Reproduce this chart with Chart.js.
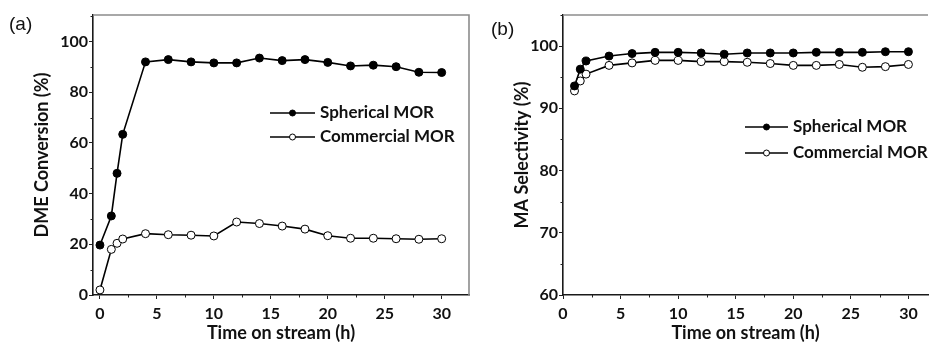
<!DOCTYPE html>
<html>
<head>
<meta charset="utf-8">
<script src="https://cdn.jsdelivr.net/npm/chart.js@4/dist/chart.umd.min.js"></script>
<style>
  html, body { margin: 0; padding: 0; background: #fff; }
  body { width: 933px; height: 344px; position: relative; overflow: hidden; }
  .pane { position: absolute; top: 0; height: 344px; }
  #wa { left: 0; width: 474px; }
  #wb { left: 473px; width: 460px; }
  .plabel { position: absolute; font-family: "Liberation Sans", Arial, sans-serif; font-size: 19px; color: #111; }
</style>
</head>
<body>
<div class="pane" id="wa"><canvas id="ca" width="474" height="344"></canvas></div>
<div class="pane" id="wb"><canvas id="cb" width="460" height="344"></canvas></div>
<div class="plabel" style="left:9px; top:13px;">(a)</div>
<div class="plabel" style="left:491px; top:18px;">(b)</div>
<script>
// ---- Data ----
const seriesNames = ["Spherical MOR", "Commercial MOR"];

const timeA = [0, 1, 1.5, 2, 4, 6, 8, 10, 12, 14, 16, 18, 20, 22, 24, 26, 28, 30];
const sphericalConversion = [19.7, 31.2, 48.0, 63.4, 92.0, 92.9, 92.0, 91.6, 91.6, 93.5, 92.5, 92.9, 91.8, 90.4, 90.7, 90.1, 87.9, 87.8];
const commercialConversion = [2.0, 18.0, 20.4, 22.1, 24.2, 23.8, 23.6, 23.3, 28.8, 28.2, 27.2, 26.0, 23.4, 22.4, 22.4, 22.2, 22.0, 22.2];

const timeB = [1, 1.5, 2, 4, 6, 8, 10, 12, 14, 16, 18, 20, 22, 24, 26, 28, 30];
const sphericalSelectivity = [93.6, 96.3, 97.6, 98.4, 98.8, 99.0, 99.0, 98.9, 98.7, 98.9, 98.9, 98.9, 99.0, 99.0, 99.0, 99.1, 99.1];
const commercialSelectivity = [92.8, 94.4, 95.5, 96.9, 97.3, 97.7, 97.7, 97.5, 97.5, 97.4, 97.2, 96.9, 96.9, 97.05, 96.6, 96.7, 97.05];

const xMajorTicks = [0, 5, 10, 15, 20, 25, 30];
const xMinorTicks = [2.5, 7.5, 12.5, 17.5, 22.5, 27.5, 32.5];
const yMajorTicksA = [0, 20, 40, 60, 80, 100];
const yMinorTicksA = [10, 30, 50, 70, 90, 110];
const yMajorTicksB = [60, 70, 80, 90, 100];
const yMinorTicksB = [65, 75, 85, 95, 105];

const xTitle = "Time on stream (h)";
const yTitleA = "DME Conversion (%)";
const yTitleB = "MA Selectivity (%)";

// ---- Styling ----
const FONT = "Lato, 'Open Sans', sans-serif";
const pts = (xs, ys) => xs.map((x, i) => ({ x: x, y: ys[i] }));

function makeDatasets(xs, ys1, ys2) {
  return [
    { label: seriesNames[0], data: pts(xs, ys1), borderColor: '#000', backgroundColor: '#000',
      pointBackgroundColor: '#000', pointBorderColor: '#000', pointRadius: 4, pointBorderWidth: 1,
      borderWidth: 1.6, tension: 0, fill: false, _legendRadius: 3 },
    { label: seriesNames[1], data: pts(xs, ys2), borderColor: '#000', backgroundColor: '#fff',
      pointBackgroundColor: '#fff', pointBorderColor: '#000', pointRadius: 4, pointBorderWidth: 1,
      borderWidth: 1.6, tension: 0, fill: false, _legendRadius: 3 }
  ];
}

const decorPlugin = {
  id: 'decor',
  afterDatasetsDraw(chart, args, o) {
    const ctx = chart.ctx;
    const { left, right, top, bottom } = chart.chartArea;
    ctx.save();
    // frame (top & right)
    ctx.strokeStyle = '#8c8c8c';
    ctx.lineWidth = 1.6;
    ctx.beginPath();
    ctx.moveTo(left, top);
    ctx.lineTo(right, top);
    if (o.rightBorder) ctx.lineTo(right, bottom);
    ctx.stroke();
    // minor ticks
    const xs = chart.scales.x, ys = chart.scales.y;
    ctx.strokeStyle = '#222';
    ctx.lineWidth = 1;
    ctx.beginPath();
    o.xMinor.forEach(v => {
      const px = Math.round(xs.getPixelForValue(v)) + 0.5;
      if (px < left || px > right) return;
      ctx.moveTo(px, bottom); ctx.lineTo(px, bottom + 2.5);
    });
    o.yMinor.forEach(v => {
      const py = Math.round(ys.getPixelForValue(v)) + 0.5;
      if (py < top || py > bottom) return;
      ctx.moveTo(left, py); ctx.lineTo(left - 2.5, py);
    });
    ctx.stroke();
    // legend
    const L = o.legend;
    ctx.font = "bold " + L.fontSize + "px " + FONT;
    ctx.textBaseline = 'middle';
    ctx.fillStyle = '#111';
    chart.data.datasets.forEach((ds, i) => {
      const y = L.rows[i];
      ctx.strokeStyle = '#000';
      ctx.lineWidth = 1.3;
      ctx.beginPath(); ctx.moveTo(L.x0, y); ctx.lineTo(L.x1, y); ctx.stroke();
      ctx.beginPath();
      ctx.arc((L.x0 + L.x1) / 2, y, ds._legendRadius, 0, Math.PI * 2);
      ctx.fillStyle = ds.pointBackgroundColor; ctx.fill();
      ctx.lineWidth = 1; ctx.strokeStyle = '#000'; ctx.stroke();
      ctx.fillStyle = '#111';
      ctx.fillText(ds.label, L.textX, y);
    });
    ctx.restore();
  }
};

function makeChart(canvas, cfg) {
  return new Chart(canvas, {
    type: 'line',
    data: { datasets: makeDatasets(cfg.xs, cfg.y1, cfg.y2) },
    plugins: [decorPlugin],
    options: {
      responsive: false,
      animation: false,
      events: [],
      layout: { padding: { top: 15, right: cfg.padRight, left: 0, bottom: 0 } },
      plugins: {
        legend: { display: false },
        tooltip: { enabled: false },
        decor: { rightBorder: cfg.rightBorder, xMinor: xMinorTicks, yMinor: cfg.yMinor, legend: cfg.legend }
      },
      scales: {
        x: {
          type: 'linear', min: cfg.xmin, max: cfg.xmax,
          afterBuildTicks: s => { s.ticks = xMajorTicks.map(v => ({ value: v })); },
          afterFit: s => { s.height = 49; },
          grid: { drawOnChartArea: false, drawTicks: true, tickLength: 4, tickColor: '#222', tickWidth: 1 },
          border: { display: true, color: '#1a1a1a', width: 1.6 },
          ticks: { color: '#111', padding: 5, font: { family: FONT, size: 16, weight: 'bold' }, maxRotation: 0, autoSkip: false },
          title: { display: true, text: xTitle, color: '#111', padding: { top: 0, bottom: 0 }, font: { family: FONT, size: 18, weight: 'bold' } }
        },
        y: {
          type: 'linear', min: cfg.ymin, max: cfg.ymax,
          afterBuildTicks: s => { s.ticks = cfg.yMajor.map(v => ({ value: v })); },
          afterFit: s => { s.width = cfg.yWidth; },
          grid: { drawOnChartArea: false, drawTicks: true, tickLength: 4, tickColor: '#222', tickWidth: 1 },
          border: { display: true, color: '#1a1a1a', width: 1.6 },
          ticks: { color: '#111', padding: 1, font: { family: FONT, size: 16, weight: 'bold' }, autoSkip: false },
          title: { display: true, text: cfg.yTitle, color: '#111', padding: { top: cfg.yTitlePad, bottom: 0 }, font: { family: FONT, size: 18, weight: 'bold' } }
        }
      }
    }
  });
}

makeChart(document.getElementById('ca'), {
  xs: timeA, y1: sphericalConversion, y2: commercialConversion,
  xmin: -0.61, xmax: 32.4, ymin: 0, ymax: 110.5,
  yMajor: yMajorTicksA, yMinor: yMinorTicksA, yTitle: yTitleA,
  yWidth: 93, yTitlePad: 31, padRight: 1, rightBorder: true,
  legend: { x0: 270, x1: 315, textX: 320, rows: [113, 137], fontSize: 17 }
});

makeChart(document.getElementById('cb'), {
  xs: timeB, y1: sphericalSelectivity, y2: commercialSelectivity,
  xmin: 0, xmax: 31.7, ymin: 60, ymax: 105,
  yMajor: yMajorTicksB, yMinor: yMinorTicksB, yTitle: yTitleB,
  yWidth: 90, yTitlePad: 38, padRight: 0, rightBorder: false,
  legend: { x0: 272, x1: 315, textX: 320, rows: [127, 153], fontSize: 17 }
});
</script>
</body>
</html>
